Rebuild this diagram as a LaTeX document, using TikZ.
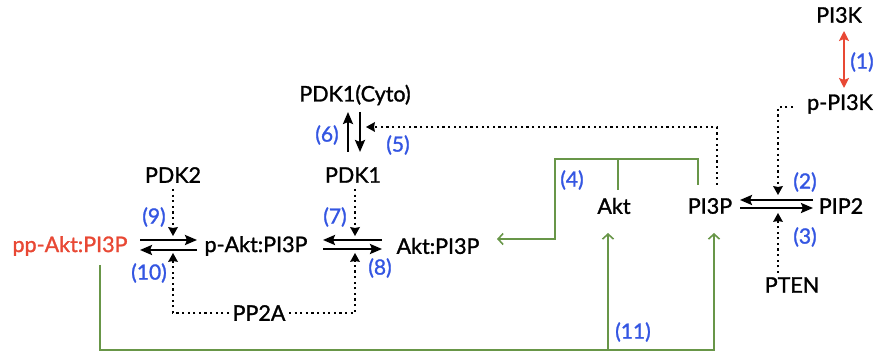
\documentclass[tikz,border=0pt]{standalone}
\usepackage{fontspec}
\setmainfont{Lato}[FakeBold=1.3]
\usetikzlibrary{arrows.meta}
\definecolor{numblue}{RGB}{52,86,226}
\definecolor{hotred}{RGB}{232,72,52}
\definecolor{linkgreen}{RGB}{104,150,72}
\begin{document}
\begin{tikzpicture}[x=1pt,y=-1pt,
  species/.style={inner sep=0pt, font=\fontsize{21.5}{26}\selectfont},
  rxn/.style={text=numblue, inner sep=0pt, font=\fontsize{21}{25}\selectfont},
  flux/.style={line width=2.3pt, -{Stealth[length=12pt,width=10pt,inset=2pt]}},
  modif/.style={line width=2.6pt, dash pattern=on 2.2pt off 3.4pt, -{Stealth[length=9pt,width=10pt,inset=1pt,line width=0pt]}},
  link/.style={linkgreen, line width=1.6pt, -{Straight Barb[length=5pt,width=11pt]}},
  linkline/.style={linkgreen, line width=1.6pt}]
\useasboundingbox (0,0) rectangle (876,352);

% species
\node[species] (pi3k) at (839,15) {PI3K};
\node[species] (ppi3k) at (840,104) {p-PI3K};
\node[species] (pi3p) at (710,206) {PI3P};
\node[species] (pip2) at (841,206) {PIP2};
\node[species] (pten) at (792,285) {PTEN};
\node[species] (akt) at (614,206) {Akt};
\node[species] (cyto) at (355,95) {PDK1(Cyto)};
\node[species] (pdk1) at (353,175) {PDK1};
\node[species] (pdk2) at (173,175) {PDK2};
\node[species, text=hotred] (ppakt) at (70,246) {pp-Akt:PI3P};
\node[species] (pakt) at (256,246) {p-Akt:PI3P};
\node[species] (aktpi3p) at (438,246) {Akt:PI3P};
\node[species] (pp2a) at (259,313) {PP2A};

% reaction numbers
\node[rxn] (n1) at (862,62) {(1)};
\node[rxn] (n2) at (805,182) {(2)};
\node[rxn] (n3) at (805,237) {(3)};
\node[rxn] (n4) at (572,180) {(4)};
\node[rxn] (n5) at (398,145) {(5)};
\node[rxn] (n6) at (327,135) {(6)};
\node[rxn] (n7) at (335,217) {(7)};
\node[rxn] (n8) at (380,268) {(8)};
\node[rxn] (n9) at (154,217) {(9)};
\node[rxn] (n10) at (149,273) {(10)};
\node[rxn] (n11) at (633,332) {(11)};

% PI3K activation
\coordinate (k1) at (844,31);
\coordinate (k2) at (844,88);
\draw[hotred, line width=1.9pt, {Stealth[length=10pt,width=10pt,inset=2pt]}-{Stealth[length=10pt,width=10pt,inset=2pt]}] (k1) -- (k2);

% PI3P <-> PIP2
\coordinate (pa) at (740,200);
\coordinate (pb) at (813,200);
\coordinate (pc) at (740,208);
\coordinate (pd) at (813,208);
\draw[flux] (pb) -- (pa);
\draw[flux] (pc) -- (pd);
\coordinate (kk0) at (793,107);
\coordinate (kk1) at (778,107);
\coordinate (kk2) at (778,195);
\draw[modif] (kk0) -- (kk1) -- (kk2);
\coordinate (pt0) at (778,273);
\coordinate (pt1) at (778,213);
\draw[modif] (pt0) -- (pt1);

% PDK1 translocation
\coordinate (c1) at (348,152);
\coordinate (c2) at (348,112);
\coordinate (c3) at (360,112);
\coordinate (c4) at (360,152);
\draw[flux] (c1) -- (c2);
\draw[flux] (c3) -- (c4);
\coordinate (d0) at (717,185);
\coordinate (d1) at (717,127);
\coordinate (d2) at (366,127);
\draw[modif] (d0) -- (d1) -- (d2);

% Akt phosphorylation steps
\coordinate (a1) at (140,240);
\coordinate (a2) at (197,240);
\coordinate (a3) at (140,250);
\coordinate (a4) at (197,250);
\draw[flux] (a1) -- (a2);
\draw[flux] (a4) -- (a3);
\coordinate (b1) at (323,240);
\coordinate (b2) at (382,240);
\coordinate (b3) at (323,249);
\coordinate (b4) at (382,249);
\draw[flux] (b2) -- (b1);
\draw[flux] (b3) -- (b4);
\coordinate (e0) at (173,189);
\coordinate (e1) at (173,236);
\draw[modif] (e0) -- (e1);
\coordinate (f0) at (355,189);
\coordinate (f1) at (355,236);
\draw[modif] (f0) -- (f1);
\coordinate (g0) at (229,313);
\coordinate (g1) at (173,313);
\coordinate (g2) at (173,253);
\draw[modif] (g0) -- (g1) -- (g2);
\coordinate (h0) at (289,313);
\coordinate (h1) at (355,313);
\coordinate (h2) at (355,253);
\draw[modif] (h0) -- (h1) -- (h2);

% Akt + PI3P binding
\coordinate (m0) at (618,190);
\coordinate (m1) at (618,159);
\coordinate (m2) at (698,185);
\coordinate (m3) at (698,159);
\coordinate (m4) at (555,159);
\coordinate (m5) at (555,239);
\coordinate (m6) at (497,239);
\draw[linkline] (m0) -- (m1);
\draw[link] (m2) -- (m3) -- (m4) -- (m5) -- (m6);

% dissociation back to Akt and PI3P
\coordinate (u0) at (100,265);
\coordinate (u1) at (100,350);
\coordinate (u2) at (714,350);
\coordinate (u3) at (714,233);
\coordinate (u4) at (608,350);
\coordinate (u5) at (608,233);
\draw[link] (u0) -- (u1) -- (u2) -- (u3);
\draw[link] (u4) -- (u5);
\end{tikzpicture}
\end{document}
